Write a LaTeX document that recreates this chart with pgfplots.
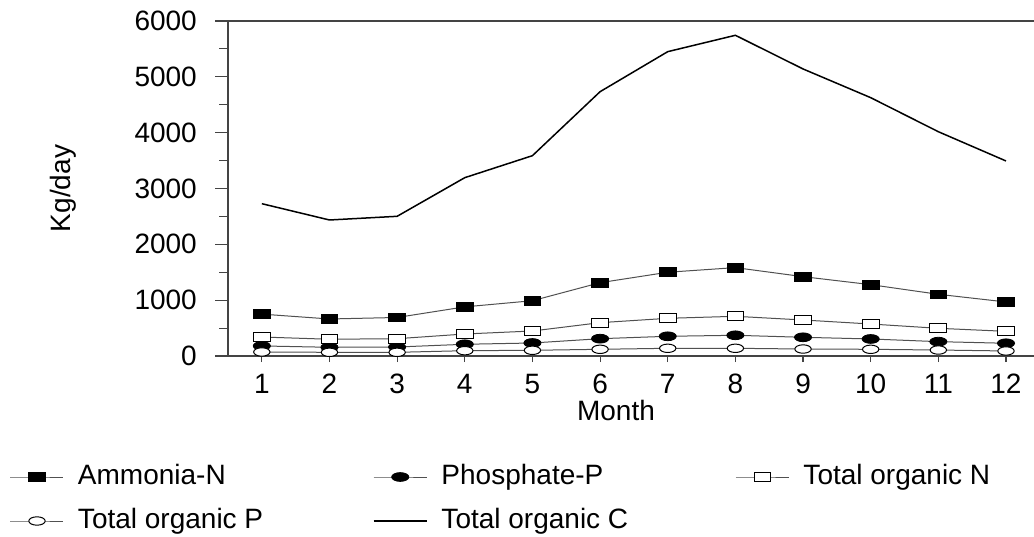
\documentclass[border=0pt]{standalone}
\usepackage{fontspec}
\setmainfont{Liberation Sans}
\usepackage{pgfplots}
\pgfplotsset{compat=1.18}

\pgfplotstableread{
m NH4 PO4 TON TOP TOC
1 750 180 340 72 2728
2 663 156 300 66 2436
3 690 161 310 66 2502
4 880 210 394 95 3194
5 990 233 448 102 3588
6 1313 310 597 120 4734
7 1500 353 675 138 5451
8 1583 371 711 138 5744
9 1421 335 645 125 5141
10 1278 305 573 120 4627
11 1105 257 496 107 4017
12 968 228 442 90 3493
}\datatable

\definecolor{axgray}{HTML}{444444}
\definecolor{lngray}{HTML}{505050}

\begin{document}
\fontsize{28bp}{34bp}\selectfont
\begin{tikzpicture}
\useasboundingbox (0,0) rectangle (1034bp,537bp);
\begin{axis}[
  at={(228bp,181bp)}, anchor=south west,
  scale only axis, width=806bp, height=335bp,
  xmin=0.5, xmax=12.414, ymin=0, ymax=6000,
  axis lines*=left,
  axis line style={axgray, line width=1.3bp},
  xtick={1,...,12}, ytick={0,1000,...,6000},
  minor y tick num=1,
  tick align=outside,
  major tick length=13bp, minor tick length=9bp,
  tick style={axgray, line width=1.1bp},
  xtick style={/pgfplots/major tick length=6bp},
  /pgf/number format/assume math mode=true,
  /pgf/number format/1000 sep={},
  xticklabel style={inner sep=0pt, anchor=north, text height=20bp, yshift=-4bp},
  yticklabel style={inner sep=0pt, anchor=east, xshift=-18bp},
  xlabel={Month},
  xlabel style={at={(axis description cs:0.4814,-0.1940)}, anchor=base, inner sep=0pt},
  ylabel={Kg/day},
  ylabel style={at={(axis description cs:-0.2047,0.5)}, anchor=center, rotate=0, inner sep=0pt},
  legend columns=3,
  legend style={draw=none, fill=none, at={(axis description cs:-0.27047,-0.32239)}, anchor=north west,
    inner sep=0pt, outer sep=0pt, column sep=0pt, row sep=18bp,
    nodes={inner sep=0pt, outer sep=0pt, text height=20bp, text depth=6bp}},
  legend cell align=left,
  legend image code/.code={\draw[mark repeat=2,mark phase=2,#1] plot coordinates {(0bp,0bp) (26.5bp,0bp) (53bp,0bp)};},
]
\addplot[lngray, line width=1bp, mark=square*, mark size=4.4bp, mark options={xscale=1.9, fill=black, draw=black, line width=0.8bp}] table[x=m, y=NH4] {\datatable};
\addlegendentry{\makebox[309bp][l]{\hspace*{14bp}Ammonia-N}}
\addplot[lngray, line width=1bp, mark=*, mark size=4.4bp, mark options={xscale=1.95, fill=black, draw=black, line width=0.8bp}] table[x=m, y=PO4] {\datatable};
\addlegendentry{\makebox[308bp][l]{\hspace*{14bp}Phosphate-P}}
\addplot[lngray, line width=1bp, mark=square*, mark size=4.4bp, mark options={xscale=1.9, fill=white, draw=black, line width=1bp}] table[x=m, y=TON] {\datatable};
\addlegendentry{\hspace*{14bp}Total organic N}
\addplot[lngray, line width=1bp, mark=*, mark size=4.2bp, mark options={xscale=1.95, fill=white, draw=black, line width=1bp}] table[x=m, y=TOP] {\datatable};
\addlegendentry{\makebox[309bp][l]{\hspace*{14bp}Total organic P}}
\addplot[black, line width=1.5bp, mark=none] table[x=m, y=TOC] {\datatable};
\addlegendentry{\makebox[308bp][l]{\hspace*{14bp}Total organic C}}
\draw[axgray, line width=1.3bp] (rel axis cs:0,1) ++(-13bp,0) -- (rel axis cs:1,1);
\end{axis}
\end{tikzpicture}
\end{document}
